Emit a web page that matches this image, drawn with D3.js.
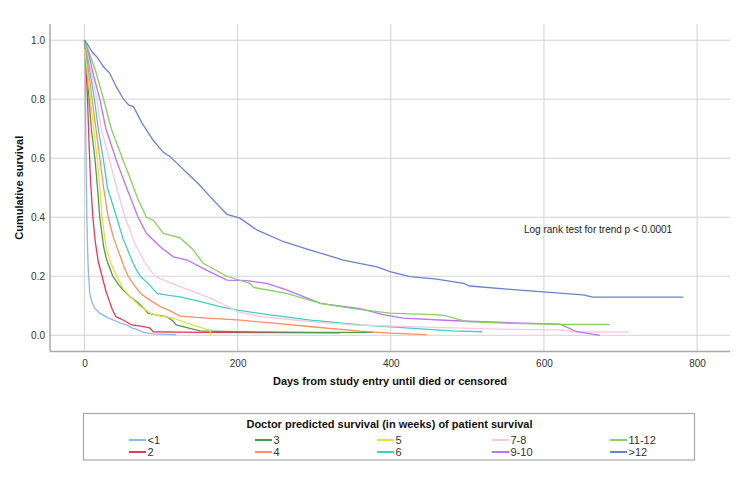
<!DOCTYPE html>
<html lang="en">
<head>
	<meta charset="UTF-8">
	<title>Cumulative survival by doctor predicted survival</title>
	<style>
		body {
			margin: 0;
			background: #fff;
		}

		svg {
			display: block;
			font-family: "Liberation Sans", Arial, sans-serif;
		}

		.grid line {
			stroke: #d3d3d3;
			stroke-width: 1px;
		}

		.axis-line {
			stroke: #a9a9a9;
			stroke-width: 1.5px;
		}

		.tick-label {
			font-size: 10px;
			fill: #333;
		}

		.title {
			font-size: 11px;
			font-weight: bold;
			fill: #111;
		}

		.km {
			fill: none;
			stroke-width: 1.3px;
		}
	</style>
	<script src="https://d3js.org/d3.v7.min.js"></script>
</head>
<body>
	<script>
		// groups and colours, in legend order
		const groups = ["<1", "2", "3", "4", "5", "6", "7-8", "9-10", "11-12", ">12"];
		const colors = ["#8ab8f0", "#e8385a", "#4c9a50", "#ff9060", "#f0dc3c",
			"#40cfc0", "#fcc6df", "#c070fa", "#88d060", "#6a84d0"];

		const xTicks = [0, 200, 400, 600, 800];
		const yTicks = [0, 0.2, 0.4, 0.6, 0.8, 1.0];

		// [days, cumulative survival]
		const sLt1 = [[0, 1.0], [1, 0.9], [2, 0.62], [3, 0.42], [4, 0.3], [5, 0.22], [7, 0.14], [10, 0.11],
			[14, 0.09], [20, 0.075], [30, 0.06], [40, 0.05], [46, 0.042], [55, 0.035], [62, 0.025],
			[70, 0.018], [77, 0.01], [90, 0.005], [120, 0.002]];
		const s2 = [[0, 1.0], [1, 0.97], [2, 0.92], [3, 0.86], [4, 0.8], [6, 0.65], [8, 0.52], [11, 0.4],
			[14, 0.32], [18, 0.25], [23, 0.2], [28, 0.15], [32, 0.12], [36, 0.09], [41, 0.063], [48, 0.055],
			[55, 0.045], [62, 0.035], [75, 0.03], [85, 0.025], [90, 0.012], [150, 0.01], [250, 0.009], [334, 0.008]];
		const s3 = [[0, 0.99], [2, 0.95], [4, 0.88], [6, 0.8], [9, 0.7], [14, 0.59], [17, 0.5], [20, 0.4],
			[25, 0.3], [29, 0.255], [37, 0.2], [45, 0.17], [52, 0.15], [60, 0.13], [70, 0.11], [78, 0.09],
			[83, 0.075], [95, 0.068], [107, 0.063], [115, 0.05], [120, 0.035], [135, 0.025], [151, 0.015],
			[200, 0.012], [300, 0.01], [377, 0.01]];
		const s4 = [[0, 0.98], [3, 0.95], [6, 0.88], [10, 0.8], [15, 0.7], [20, 0.6], [25, 0.5], [31, 0.4],
			[38, 0.33], [45, 0.28], [52, 0.23], [57, 0.2], [65, 0.17], [73, 0.142], [85, 0.12], [99, 0.097],
			[110, 0.085], [125, 0.065], [160, 0.058], [200, 0.052], [250, 0.04], [300, 0.028], [360, 0.014],
			[400, 0.007], [447, 0.002]];
		const s5 = [[0, 0.97], [2, 0.93], [5, 0.86], [8, 0.8], [12, 0.7], [17, 0.59], [20, 0.5], [23, 0.4],
			[28, 0.3], [35, 0.24], [42, 0.2], [50, 0.16], [60, 0.13], [72, 0.1], [86, 0.075], [100, 0.065],
			[116, 0.058], [130, 0.045], [145, 0.032], [160, 0.02], [164, 0.018], [165, 0.0]];
		const s6 = [[0, 0.99], [4, 0.95], [8, 0.88], [13, 0.8], [18, 0.7], [25, 0.59], [30, 0.5], [42, 0.4],
			[50, 0.33], [60, 0.266], [66, 0.23], [73, 0.2], [85, 0.17], [95, 0.142], [110, 0.135], [125, 0.13],
			[150, 0.115], [177, 0.097], [200, 0.085], [242, 0.069], [300, 0.05], [360, 0.035], [420, 0.025],
			[480, 0.015], [519, 0.012]];
		const s78 = [[0, 1.0], [5, 0.95], [10, 0.88], [16, 0.8], [22, 0.7], [33, 0.59], [42, 0.5], [53, 0.4],
			[66, 0.31], [78, 0.25], [92, 0.2], [105, 0.185], [125, 0.165], [150, 0.14], [170, 0.12], [185, 0.1],
			[200, 0.08], [230, 0.063], [280, 0.05], [350, 0.035], [480, 0.025], [560, 0.02], [620, 0.018],
			[640, 0.012], [711, 0.011]];
		const s910 = [[0, 1.0], [6, 0.95], [12, 0.88], [20, 0.8], [28, 0.7], [42, 0.59], [55, 0.5], [70, 0.4],
			[81, 0.345], [99, 0.3], [116, 0.266], [134, 0.255], [160, 0.22], [186, 0.187], [212, 0.185],
			[238, 0.176], [264, 0.154], [308, 0.108], [360, 0.09], [390, 0.07], [416, 0.058], [477, 0.05],
			[560, 0.042], [621, 0.038], [643, 0.012], [673, 0.0]];
		const s1112 = [[0, 1.0], [6, 0.96], [14, 0.9], [25, 0.8], [35, 0.7], [51, 0.59], [60, 0.53], [70, 0.46],
			[81, 0.4], [90, 0.39], [103, 0.345], [125, 0.33], [142, 0.29], [155, 0.244], [186, 0.2], [216, 0.176],
			[221, 0.162], [264, 0.142], [308, 0.108], [351, 0.09], [399, 0.075], [464, 0.069], [472, 0.066],
			[499, 0.046], [556, 0.04], [620, 0.037], [686, 0.037]];
		const sGt12 = [[0, 1.0], [3, 0.99], [10, 0.96], [16, 0.944], [25, 0.91], [33, 0.888], [42, 0.84],
			[51, 0.8], [58, 0.78], [64, 0.775], [75, 0.72], [90, 0.66], [103, 0.62], [112, 0.605], [122, 0.58],
			[134, 0.55], [150, 0.51], [168, 0.459], [186, 0.41], [203, 0.397], [225, 0.357], [260, 0.317],
			[295, 0.289], [338, 0.255], [382, 0.232], [399, 0.216], [425, 0.199], [460, 0.19], [495, 0.176],
			[503, 0.167], [564, 0.154], [577, 0.151], [651, 0.137], [664, 0.129], [782, 0.129]];

		const series = [sLt1, s2, s3, s4, s5, s6, s78, s910, s1112, sGt12];

		const width = 750;
		const height = 501;
		const plot = { left: 50, right: 730, top: 24, bottom: 351.5 };

		var svg = d3.select("body")
			.append("svg")
			.attr("width", width)
			.attr("height", height);

		var x = d3.scaleLinear().domain([-45, 843]).range([plot.left, plot.right]);
		var y = d3.scaleLinear().domain([-0.055, 1.055]).range([plot.bottom, plot.top]);

		// grid lines
		var grid = svg.append("g").attr("class", "grid");
		grid.selectAll(".gx")
			.data(xTicks)
			.enter()
			.append("line")
			.attr("x1", d => x(d)).attr("x2", d => x(d))
			.attr("y1", plot.top).attr("y2", plot.bottom);
		grid.selectAll(".gy")
			.data(yTicks)
			.enter()
			.append("line")
			.attr("x1", plot.left).attr("x2", plot.right)
			.attr("y1", d => y(d)).attr("y2", d => y(d));

		// axes: lines and labels only, no tick marks
		svg.append("line").attr("class", "axis-line")
			.attr("x1", plot.left).attr("x2", plot.left)
			.attr("y1", plot.top).attr("y2", plot.bottom);
		svg.append("line").attr("class", "axis-line")
			.attr("x1", plot.left).attr("x2", plot.right)
			.attr("y1", plot.bottom).attr("y2", plot.bottom);

		var xAxis = svg.append("g")
			.attr("transform", `translate(0,${plot.bottom + 3})`)
			.call(d3.axisBottom(x).tickValues(xTicks).tickSize(0).tickPadding(5).tickFormat(d3.format("d")));
		var yAxis = svg.append("g")
			.attr("transform", `translate(${plot.left - 3},0)`)
			.call(d3.axisLeft(y).tickValues(yTicks).tickSize(0).tickPadding(2).tickFormat(d3.format(".1f")));
		[xAxis, yAxis].forEach(function (a) {
			a.select(".domain").remove();
			a.selectAll("text")
				.attr("class", "tick-label")
				.attr("font-family", null)
				.attr("font-size", null)
				.attr("fill", null);
		});

		// axis titles
		svg.append("text").attr("class", "title")
			.attr("x", (plot.left + plot.right) / 2)
			.attr("y", 385)
			.attr("text-anchor", "middle")
			.text("Days from study entry until died or censored");
		svg.append("text").attr("class", "title")
			.attr("transform", `translate(23,${(plot.top + plot.bottom) / 2}) rotate(-90)`)
			.attr("text-anchor", "middle")
			.text("Cumulative survival");

		// survival curves
		var line = d3.line()
			.x(d => x(d[0]))
			.y(d => y(d[1]));

		svg.append("g")
			.selectAll("path")
			.data(series)
			.enter()
			.append("path")
			.attr("class", "km")
			.attr("stroke", (d, i) => colors[i])
			.attr("d", line);

		// annotation
		svg.append("text")
			.attr("x", 524)
			.attr("y", 233)
			.attr("font-size", "10px")
			.attr("fill", "#222")
			.text("Log rank test for trend p < 0.0001");

		// legend
		var legend = svg.append("g");
		legend.append("rect")
			.attr("x", 83.5).attr("y", 413.5)
			.attr("width", 611).attr("height", 46.5)
			.attr("fill", "none")
			.attr("stroke", "#a9a9a9")
			.attr("stroke-width", 1.2);
		legend.append("text").attr("class", "title")
			.attr("x", 389.5).attr("y", 428)
			.attr("text-anchor", "middle")
			.text("Doctor predicted survival (in weeks) of patient survival");

		const colX = [129, 255, 377, 492, 610];
		const rowY = [440, 452];

		var item = legend.selectAll(".item")
			.data(groups)
			.enter()
			.append("g")
			.attr("transform", (d, i) => `translate(${colX[Math.floor(i / 2)]},${rowY[i % 2]})`);
		item.append("line")
			.attr("x1", 0).attr("x2", 17)
			.attr("stroke", (d, i) => colors[i])
			.attr("stroke-width", 2);
		item.append("text")
			.attr("x", 18.5)
			.attr("y", 4)
			.attr("font-size", "11px")
			.attr("fill", "#333")
			.text(d => d);
	</script>
</body>
</html>
